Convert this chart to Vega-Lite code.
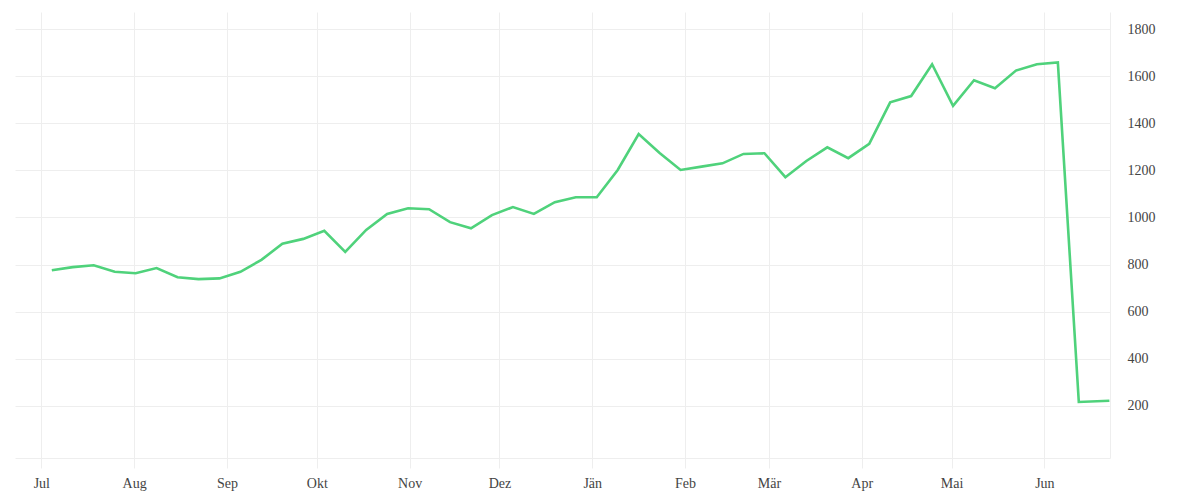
{
  "$schema": "https://vega.github.io/schema/vega-lite/v6.json",
  "autosize": "none",
  "width": 1095,
  "height": 446,
  "padding": {"left": 15, "top": 12, "right": 90, "bottom": 42},
  "background": "white",
  "config": {
    "view": {"stroke": null},
    "font": "Liberation Serif"
  },
  "data": {
    "values": [
      {"date": "2021-07-04T12:00:00", "value": 776},
      {"date": "2021-07-11T12:00:00", "value": 789},
      {"date": "2021-07-18T12:00:00", "value": 797},
      {"date": "2021-07-25T12:00:00", "value": 769},
      {"date": "2021-08-01T12:00:00", "value": 763},
      {"date": "2021-08-08T12:00:00", "value": 785},
      {"date": "2021-08-15T12:00:00", "value": 746},
      {"date": "2021-08-22T12:00:00", "value": 738},
      {"date": "2021-08-29T12:00:00", "value": 741},
      {"date": "2021-09-05T12:00:00", "value": 769},
      {"date": "2021-09-12T12:00:00", "value": 820},
      {"date": "2021-09-19T12:00:00", "value": 888},
      {"date": "2021-09-26T12:00:00", "value": 909},
      {"date": "2021-10-03T12:00:00", "value": 943},
      {"date": "2021-10-10T12:00:00", "value": 854},
      {"date": "2021-10-17T12:00:00", "value": 947},
      {"date": "2021-10-24T12:00:00", "value": 1015},
      {"date": "2021-10-31T12:00:00", "value": 1039},
      {"date": "2021-11-07T12:00:00", "value": 1035},
      {"date": "2021-11-14T12:00:00", "value": 980},
      {"date": "2021-11-21T12:00:00", "value": 954},
      {"date": "2021-11-28T12:00:00", "value": 1010},
      {"date": "2021-12-05T12:00:00", "value": 1044},
      {"date": "2021-12-12T12:00:00", "value": 1015},
      {"date": "2021-12-19T12:00:00", "value": 1065},
      {"date": "2021-12-26T12:00:00", "value": 1086},
      {"date": "2022-01-02T12:00:00", "value": 1086},
      {"date": "2022-01-09T12:00:00", "value": 1202},
      {"date": "2022-01-16T12:00:00", "value": 1354},
      {"date": "2022-01-23T12:00:00", "value": 1274},
      {"date": "2022-01-30T12:00:00", "value": 1202},
      {"date": "2022-02-06T12:00:00", "value": 1216},
      {"date": "2022-02-13T12:00:00", "value": 1230},
      {"date": "2022-02-20T12:00:00", "value": 1270},
      {"date": "2022-02-27T12:00:00", "value": 1273},
      {"date": "2022-03-06T12:00:00", "value": 1171},
      {"date": "2022-03-13T12:00:00", "value": 1240},
      {"date": "2022-03-20T12:00:00", "value": 1298},
      {"date": "2022-03-27T12:00:00", "value": 1252},
      {"date": "2022-04-03T12:00:00", "value": 1313},
      {"date": "2022-04-10T12:00:00", "value": 1489},
      {"date": "2022-04-17T12:00:00", "value": 1516},
      {"date": "2022-04-24T12:00:00", "value": 1651},
      {"date": "2022-05-01T12:00:00", "value": 1474},
      {"date": "2022-05-08T12:00:00", "value": 1583},
      {"date": "2022-05-15T12:00:00", "value": 1549},
      {"date": "2022-05-22T12:00:00", "value": 1624},
      {"date": "2022-05-29T12:00:00", "value": 1651},
      {"date": "2022-06-05T12:00:00", "value": 1659},
      {"date": "2022-06-12T12:00:00", "value": 216},
      {"date": "2022-06-22T17:00:00", "value": 221}
    ]
  },
  "mark": {"type": "line", "color": "#4fd27b", "strokeWidth": 2.6, "clip": true},
  "encoding": {
    "x": {
      "field": "date",
      "type": "temporal",
      "title": null,
      "scale": {
        "domain": [
          {"year": 2021, "month": 6, "date": 22, "hours": 5},
          {"year": 2022, "month": 6, "date": 22, "hours": 22}
        ]
      },
      "axis": {
        "tickCount": {"interval": "month", "step": 1},
        "labelExpr": "['Jän','Feb','Mär','Apr','Mai','Jun','Jul','Aug','Sep','Okt','Nov','Dez'][month(datum.value)]",
        "grid": true,
        "gridColor": "#eeeeee",
        "gridWidth": 1,
        "domain": true,
        "domainColor": "#eeeeee",
        "ticks": true,
        "tickColor": "#eeeeee",
        "tickSize": 10,
        "labelFont": "Liberation Serif",
        "labelFontSize": 14,
        "labelColor": "#444444",
        "labelPadding": 8,
        "labelFlush": false,
        "labelOverlap": false
      }
    },
    "y": {
      "field": "value",
      "type": "quantitative",
      "title": null,
      "scale": {"domain": [-22, 1873], "nice": false, "zero": false},
      "axis": {
        "orient": "right",
        "values": [200, 400, 600, 800, 1000, 1200, 1400, 1600, 1800],
        "format": "d",
        "grid": true,
        "gridColor": "#eeeeee",
        "gridWidth": 1,
        "domain": true,
        "domainColor": "#eeeeee",
        "ticks": false,
        "labelPadding": 17,
        "labelFont": "Liberation Serif",
        "labelFontSize": 14,
        "labelColor": "#444444"
      }
    }
  }
}
